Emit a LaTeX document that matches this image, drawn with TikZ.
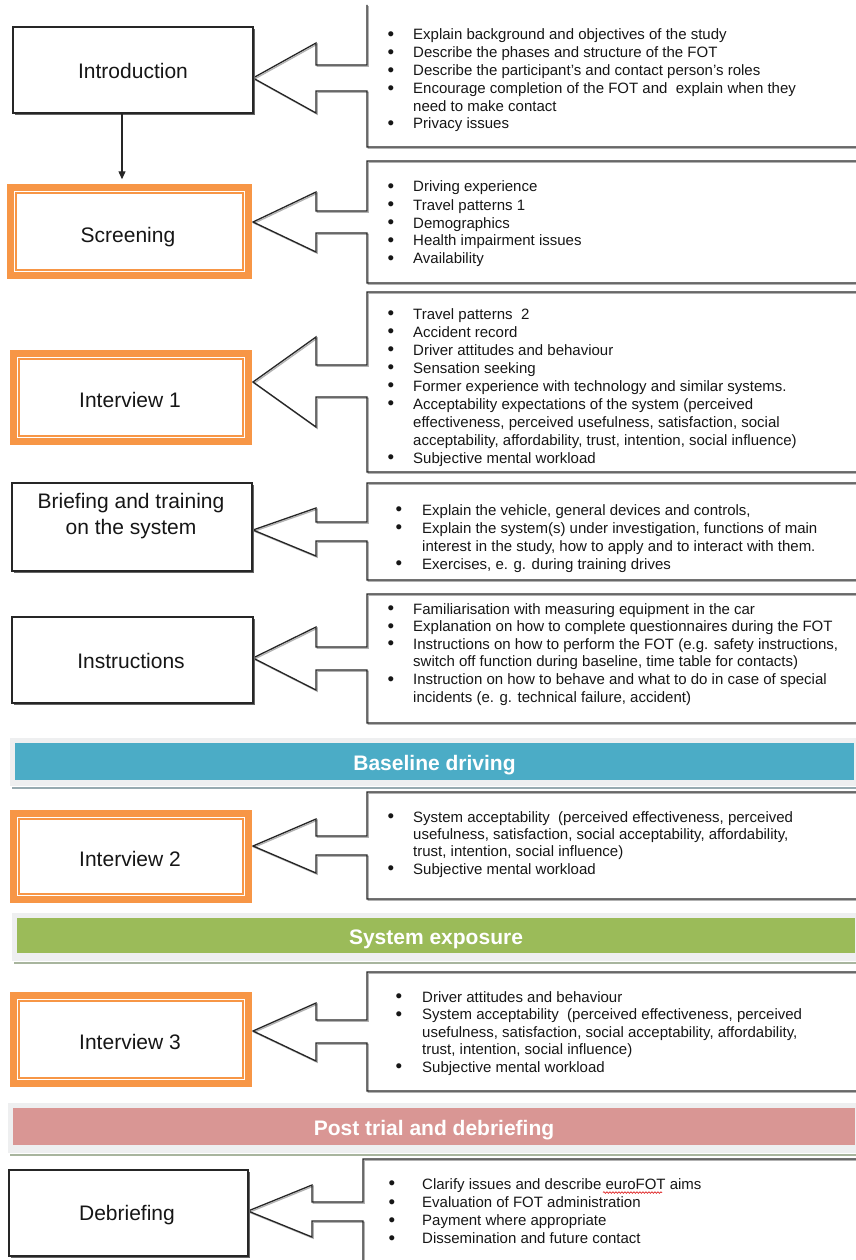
\documentclass[tikz,border=0pt]{standalone}
\usepackage{fontspec}
\setmainfont{Liberation Sans}
\usetikzlibrary{arrows.meta,shadows,decorations.pathmorphing}

\definecolor{accent}{HTML}{F79646}
\definecolor{barblue}{HTML}{4BACC6}
\definecolor{bargreen}{HTML}{9BBB59}
\definecolor{barred}{HTML}{D99694}
\definecolor{halo}{HTML}{EEEFF0}
\definecolor{halolineblue}{HTML}{97AAB0}
\definecolor{halolinegreen}{HTML}{A8B59E}
\definecolor{txt}{HTML}{161616}
\definecolor{linec}{HTML}{262626}

% bullet column helpers
\newlength{\bw}
\newcommand{\bu}{\makebox[\bw][l]{\raisebox{-0.7pt}{\scalebox{1.25}{\textbullet}}}}
\newcommand{\cn}{\hspace*{\bw}}
\newcommand{\blist}[2]{\setlength{\bw}{#1}\begin{tabular}[t]{@{}l@{}}#2\end{tabular}}
% callout outline with a soft offset shadow
\newcommand{\callout}[1]{\draw[cshadow] #1; \draw[cline] #1;}

\tikzset{
  cline/.style={draw=linec, line width=1.3pt, line join=miter},
  cshadow/.style={draw=black!30, line width=1.3pt, line join=miter, shift={(1.2,1.2)}},
  wbox/.style={draw=linec, line width=1.3pt, fill=white, outer sep=0pt, inner sep=0pt,
    drop shadow={shadow xshift=1.6pt, shadow yshift=-1.6pt, fill=black!60, opacity=1}},
  obox/.style={draw=accent, line width=6.6pt, fill=white, outer sep=0pt, inner sep=0pt},
  lbl/.style={font={\fontsize{21}{26.6}\selectfont}, text=txt, inner sep=0pt,
    text height=15.3pt, text depth=4.4pt},
  items/.style={font={\fontsize{15}{#1}\selectfont}, text=txt, inner sep=0pt, anchor=base west},
  bar/.style={inner sep=0pt, outer sep=0pt, text=white, text height=17pt, text depth=0pt,
    font={\fontsize{21}{24}\selectfont\bfseries}},
}

\newcommand{\innerline}[1]{\draw[accent, line width=1.1pt] ([shift={(5.7,5.7)}]#1.north west) rectangle ([shift={(-5.7,-5.7)}]#1.south east);}

\begin{document}
\begin{tikzpicture}[x=1pt, y=-1pt]
\useasboundingbox (0,0) rectangle (856,1260);
\begin{scope}
\clip (0,0) rectangle (856,1260);

% ---------- callout outlines ----------
\callout{(367,5) -- (367,65) -- (316,65) -- (316,43) -- (253,78) -- (316,113) -- (316,91) -- (367,91) -- (367,147) -- (862,147)}
\callout{(862,161) -- (367,161) -- (367,211) -- (316,211) -- (316,192) -- (253,222) -- (316,252) -- (316,233) -- (367,233) -- (367,283) -- (862,283)}
\callout{(862,292) -- (367,292) -- (367,365) -- (316,365) -- (316,337) -- (253,382) -- (316,427) -- (316,397) -- (367,397) -- (367,472) -- (862,472)}
\callout{(862,483) -- (367,483) -- (367,522) -- (316,522) -- (316,508) -- (253,530) -- (316,556) -- (316,541) -- (367,541) -- (367,580) -- (862,580)}
\callout{(862,594) -- (367,594) -- (367,647) -- (316,647) -- (316,627) -- (253,658) -- (316,690) -- (316,670) -- (367,670) -- (367,723) -- (862,723)}
\callout{(862,792) -- (367,792) -- (367,836) -- (316,836) -- (316,819) -- (253,846) -- (316,873) -- (316,855) -- (367,855) -- (367,899) -- (862,899)}
\callout{(862,972) -- (367,972) -- (367,1020) -- (316,1020) -- (316,1003) -- (253,1031) -- (316,1061) -- (316,1043) -- (367,1043) -- (367,1091) -- (862,1091)}
\callout{(862,1159) -- (363,1159) -- (363,1202) -- (312,1202) -- (312,1185) -- (248,1211) -- (312,1237) -- (312,1221) -- (363,1221) -- (363,1270)}

% ---------- phase boxes ----------
\node[wbox, minimum width=240pt, minimum height=86pt] (intro) at (133,70) {};
\node[obox, minimum width=238.4pt, minimum height=88.4pt] (scr) at (129.5,231.5) {};
\innerline{scr}
\node[obox, minimum width=235.4pt, minimum height=88.4pt] (int1) at (131,397.5) {};
\innerline{int1}
\node[wbox, minimum width=240pt, minimum height=88pt] (brief) at (132,527) {};
\node[wbox, minimum width=241pt, minimum height=86pt] (instr) at (132.5,660) {};
\node[obox, minimum width=235.4pt, minimum height=86.4pt] (int2) at (131,856.5) {};
\innerline{int2}
\node[obox, minimum width=235.4pt, minimum height=88.4pt] (int3) at (131,1039.5) {};
\innerline{int3}
\node[wbox, minimum width=239pt, minimum height=86pt] (debrief) at (128.5,1213) {};

% box labels
\node[lbl] (introlbl) at (133,73) {Introduction};
\node[lbl] (scrlbl) at (128,237) {Screening};
\node[lbl] (int1lbl) at (130,402) {Interview 1};
\node[lbl, align=center, text height=, text depth=] (brieflbl) at (131,516) {Briefing and training\\on the system};
\node[lbl] (instrlbl) at (131,663) {Instructions};
\node[lbl] (int2lbl) at (130,861) {Interview 2};
\node[lbl] (int3lbl) at (130,1044) {Interview 3};
\node[lbl] (debrieflbl) at (127,1215) {Debriefing};

% flow arrow
\draw[linec, line width=1.2pt, -{Triangle[length=8pt,width=7pt]}]
  ([xshift=-11pt]intro.south) -- ([xshift=-7.5pt, yshift=8pt]scr.north);

% ---------- phase bars ----------
\fill[halo] (10,738) rectangle (856,786);
\fill[halolineblue] (12,786.5) rectangle (856,789);
\node[bar, fill=barblue, minimum width=839pt, minimum height=37pt] (baseline) at (434.5,761.5) {Baseline driving};

\fill[halo] (12,913) rectangle (856,961);
\fill[halolinegreen] (14,961.5) rectangle (856,963.5);
\node[bar, fill=bargreen, minimum width=838pt, minimum height=35pt] (exposure) at (436,935.5) {System exposure};

\fill[halo] (8,1103) rectangle (856,1153);
\fill[halolinegreen] (10,1153.5) rectangle (856,1156);
\node[bar, fill=barred, minimum width=842pt, minimum height=37pt] (post) at (434,1126.5) {Post trial and debriefing};

% ---------- item lists ----------
\node[items=17.8pt] (introitems) at (387.5,40) {\blist{25.5pt}{%
\bu Explain background and objectives of the study\\
\bu Describe the phases and structure of the FOT\\
\bu Describe the participant's and contact person's roles\\
\bu Encourage completion of the FOT and\ \ explain when they\\
\cn need to make contact\\
\bu Privacy issues}};

\node[items=18pt] (scritems) at (387.5,192) {\blist{25.5pt}{%
\bu Driving experience\\
\bu Travel patterns 1\\
\bu Demographics\\
\bu Health impairment issues\\
\bu Availability}};

\node[items=18pt] (int1items) at (387.5,319) {\blist{25.5pt}{%
\bu Travel patterns\ \ 2\\
\bu Accident record\\
\bu Driver attitudes and behaviour\\
\bu Sensation seeking\\
\bu Former experience with technology and similar systems.\\
\bu Acceptability expectations of the system (perceived\\
\cn effectiveness, perceived usefulness, satisfaction, social\\
\cn acceptability, affordability, trust, intention, social influence)\\
\bu Subjective mental workload}};

\node[items=18pt] (briefitems) at (395.5,515) {\blist{26.5pt}{%
\bu Explain the vehicle, general devices and controls,\\
\bu Explain the system(s) under investigation, functions of main\\
\cn interest in the study, how to apply and to interact with them.\\
\bu Exercises, e. g. during training drives}};

\node[items=17.6pt] (instritems) at (387.5,614) {\blist{25.5pt}{%
\bu Familiarisation with measuring equipment in the car\\
\bu Explanation on how to complete questionnaires during the FOT\\
\bu Instructions on how to perform the FOT (e.g. safety instructions,\\
\cn switch off function during baseline, time table for contacts)\\
\bu Instruction on how to behave and what to do in case of special\\
\cn incidents (e. g. technical failure, accident)}};

\node[items=17.4pt] (int2items) at (387.5,822) {\blist{25.5pt}{%
\bu System acceptability\ \ (perceived effectiveness, perceived\\
\cn usefulness, satisfaction, social acceptability, affordability,\\
\cn trust, intention, social influence)\\
\bu Subjective mental workload}};

\node[items=17.5pt] (int3items) at (395.5,1002) {\blist{26.5pt}{%
\bu Driver attitudes and behaviour\\
\bu System acceptability\ \ (perceived effectiveness, perceived\\
\cn usefulness, satisfaction, social acceptability, affordability,\\
\cn trust, intention, social influence)\\
\bu Subjective mental workload}};

\node[items=18.3pt] (debriefitems) at (388.5,1189) {\blist{33.5pt}{%
\bu Clarify issues and describe euroFOT aims\\
\bu Evaluation of FOT administration\\
\bu Payment where appropriate\\
\bu Dissemination and future contact}};

% spelling mark under euroFOT
\draw[red!85!black, line width=0.6pt, decorate, decoration={snake, amplitude=0.8pt, segment length=3pt}]
  (603,1192.5) -- (662,1192.5);
\end{scope}
\end{tikzpicture}
\end{document}
